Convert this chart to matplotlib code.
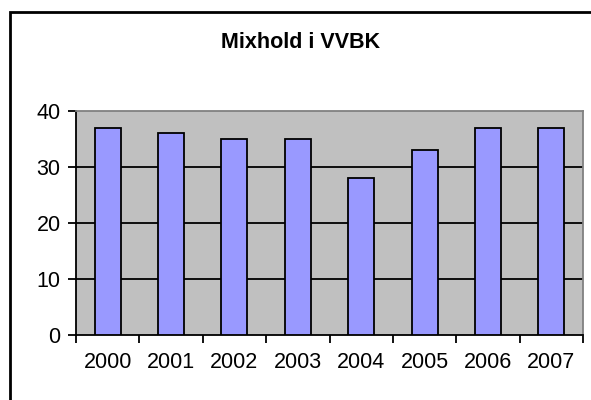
import numpy as np
import matplotlib.pyplot as plt
from matplotlib.patches import Rectangle

# dados
anos = ['2000', '2001', '2002', '2003', '2004', '2005', '2006', '2007']
valores = [37, 36, 35, 35, 28, 33, 37, 37]
y_ticks = [0, 10, 20, 30, 40]

plt.rcParams['font.family'] = ['Liberation Sans', 'DejaVu Sans']

fig = plt.figure(figsize=(5.91, 4), dpi=100)
fig.patch.set_facecolor('white')

# moldura do grafico (so esquerda e topo aparecem)
fig.patches.append(Rectangle((10/591, -0.1), 1.2, 1 - 11.5/400 + 0.1,
                             transform=fig.transFigure, fill=False,
                             edgecolor='black', linewidth=2))

ax = fig.add_axes([76/591, 1 - 335/400, (583 - 76)/591, (335 - 111)/400])
ax.set_facecolor('#C0C0C0')

x = np.arange(len(anos))
ax.bar(x, valores, width=0.41, color='#9999FF', edgecolor='black', linewidth=1.3, zorder=3)

ax.set_xlim(-0.5, len(anos) - 0.5)
ax.set_ylim(0, 40)
ax.set_yticks(y_ticks)
ax.tick_params(axis='y', labelsize=15.5, length=6, width=1.3, direction='out', pad=5)

# ticks do x nas divisas, rotulos no meio
ax.set_xticks(np.arange(len(anos) + 1) - 0.5)
ax.set_xticklabels([])
ax.set_xticks(x, minor=True)
ax.set_xticklabels(anos, minor=True)
ax.tick_params(axis='x', which='major', length=6, width=1.3, direction='out')
ax.tick_params(axis='x', which='minor', length=0, labelsize=15.5, pad=12)

for v in y_ticks[1:-1]:
    ax.axhline(v, color='black', linewidth=1.3, zorder=2)

ax.spines['left'].set_linewidth(1.3)
ax.spines['bottom'].set_linewidth(1.3)
ax.spines['top'].set_color('#808080')
ax.spines['right'].set_color('#808080')
ax.spines['top'].set_linewidth(1.3)
ax.spines['right'].set_linewidth(1.3)

fig.text(301/591, 1 - 42/400, 'Mixhold i VVBK', ha='center', va='center',
         fontsize=15.5, fontweight='bold')

plt.savefig('out.png', dpi=100)
